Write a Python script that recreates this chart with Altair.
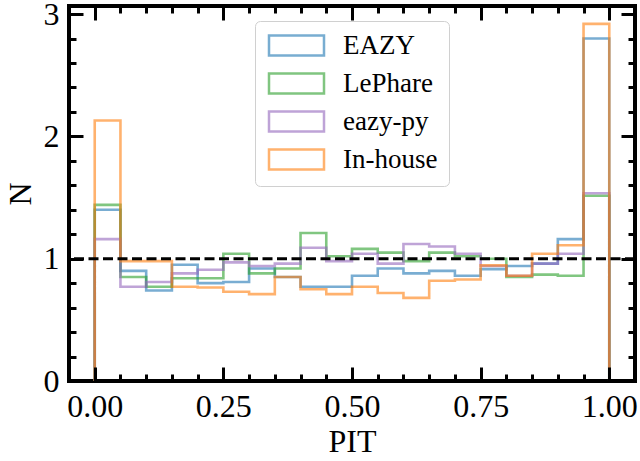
import altair as alt
import pandas as pd

# ---- data ----
series_names = ["EAZY", "LePhare", "eazy-py", "In-house"]
series_colors = ["#1f77b4", "#2ca02c", "#9467bd", "#ff7f0e"]
bin_edges = [round(i * 0.05, 2) for i in range(21)]

eazy = [1.40, 0.90, 0.74, 0.95, 0.80, 0.81, 0.92, 0.85, 0.77, 0.77,
        0.86, 0.92, 0.88, 0.90, 0.86, 0.915, 0.94, 0.96, 1.16, 2.80]
lephare = [1.44, 0.85, 0.77, 0.84, 0.84, 1.04, 0.88, 0.92, 1.21, 1.02,
           1.08, 1.05, 0.98, 1.05, 1.02, 1.00, 0.85, 0.87, 0.86, 1.515]
eazypy = [1.16, 0.77, 0.81, 0.88, 0.91, 0.97, 0.94, 0.96, 1.09, 0.98,
          1.04, 0.96, 1.12, 1.10, 1.04, 0.94, 0.86, 0.96, 1.04, 1.535]
inhouse = [2.13, 0.98, 0.98, 0.77, 0.765, 0.73, 0.71, 0.85, 0.75, 0.71,
           0.77, 0.72, 0.68, 0.82, 0.83, 0.945, 0.86, 1.04, 1.11, 2.92]

x_ticks = [round(i * 0.05, 2) for i in range(21)]
x_labels = [0.0, 0.25, 0.5, 0.75, 1.0]
y_ticks = [round(i * 0.2, 1) for i in range(16)]
y_labels = [0, 1, 2, 3]
reference_level = [1.0]

# ---- step-outline table built from the arrays ----
rows = []
for name, vals in zip(series_names, [eazy, lephare, eazypy, inhouse]):
    k = 0
    rows.append({"series": name, "x": bin_edges[0], "y": 0.0, "o": k}); k += 1
    for i, v in enumerate(vals):
        rows.append({"series": name, "x": bin_edges[i], "y": v, "o": k}); k += 1
        rows.append({"series": name, "x": bin_edges[i + 1], "y": v, "o": k}); k += 1
    rows.append({"series": name, "x": bin_edges[-1], "y": 0.0, "o": k})
df = pd.DataFrame(rows)

W, H = 566, 375
FONT = "Liberation Serif"
xscale = alt.Scale(domain=[-0.05, 1.05], nice=False, zero=False)
yscale = alt.Scale(domain=[0, 3.066], nice=False, zero=False)

x_major = "abs(datum.value*4 - round(datum.value*4)) < 0.001"
y_major = "abs(datum.value - round(datum.value)) < 0.001"

lines = alt.Chart(df).mark_line(strokeWidth=2.6, opacity=0.6).encode(
    x=alt.X("x:Q", scale=xscale, axis=alt.Axis(
        orient="bottom", values=x_labels, format=".2f", ticks=False, domain=False,
        grid=False, labelFont=FONT, labelFontSize=32, labelColor="black",
        labelPadding=10, title="PIT", titleFont=FONT, titleFontSize=32,
        titleFontWeight="normal", titleColor="black", titlePadding=4,
        labelFlush=False)),
    y=alt.Y("y:Q", scale=yscale, axis=alt.Axis(
        orient="left", values=y_labels, format="d", ticks=False, domain=False,
        grid=False, labelFont=FONT, labelFontSize=32, labelColor="black",
        labelPadding=10, title="N", titleFont=FONT, titleFontSize=32,
        titleFontWeight="normal", titleColor="black", titlePadding=6,
        labelFlush=False)),
    color=alt.Color("series:N", scale=alt.Scale(domain=series_names, range=series_colors),
                    legend=alt.Legend(
                        title=None, orient="none", legendX=186, legendY=15,
                        symbolType="M-2.75,-1L2.75,-1L2.75,1L-2.75,1Z",
                        symbolSize=400, symbolStrokeWidth=2.5, symbolOpacity=0.6,
                        symbolFillColor="white", symbolOffset=17,
                        labelFont=FONT, labelFontSize=27, labelColor="black",
                        labelOffset=33, rowPadding=7, padding=11,
                        strokeColor="#d0d0d0", fillColor="white", cornerRadius=5)),
    order="o:Q",
)

rule = alt.Chart(pd.DataFrame({"y": reference_level})).mark_rule(
    color="black", strokeWidth=3, strokeDash=[10, 4.5]
).encode(y=alt.Y("y:Q", scale=yscale, axis=None))

def tick_axis(orient, offset, values, test):
    return alt.Axis(orient=orient, offset=offset, values=values, labels=False,
                    domain=False, grid=False, title=None, tickColor="black",
                    tickWidth=3,
                    tickSize={"condition": {"test": test, "value": 14}, "value": 7},
                    zindex=2)

ticks_a = alt.Chart(df).mark_point(opacity=0).encode(
    x=alt.X("x:Q", scale=xscale, axis=tick_axis("top", -H, x_ticks, x_major)),
    y=alt.Y("y:Q", scale=yscale, axis=tick_axis("right", -W, y_ticks, y_major)),
)
ticks_b = alt.Chart(df).mark_point(opacity=0).encode(
    x=alt.X("x:Q", scale=xscale, axis=tick_axis("bottom", -H, x_ticks, x_major)),
    y=alt.Y("y:Q", scale=yscale, axis=tick_axis("left", -W, y_ticks, y_major)),
)

chart = alt.layer(lines, rule, ticks_a, ticks_b).resolve_axis(
    x="independent", y="independent"
).properties(
    width=W, height=H, autosize="none",
    padding={"left": 69, "top": 6, "right": 5, "bottom": 80},
    background="white",
).configure_view(stroke="black", strokeWidth=4)

chart.save("out.html", embed_options={"renderer": "svg", "actions": False})
